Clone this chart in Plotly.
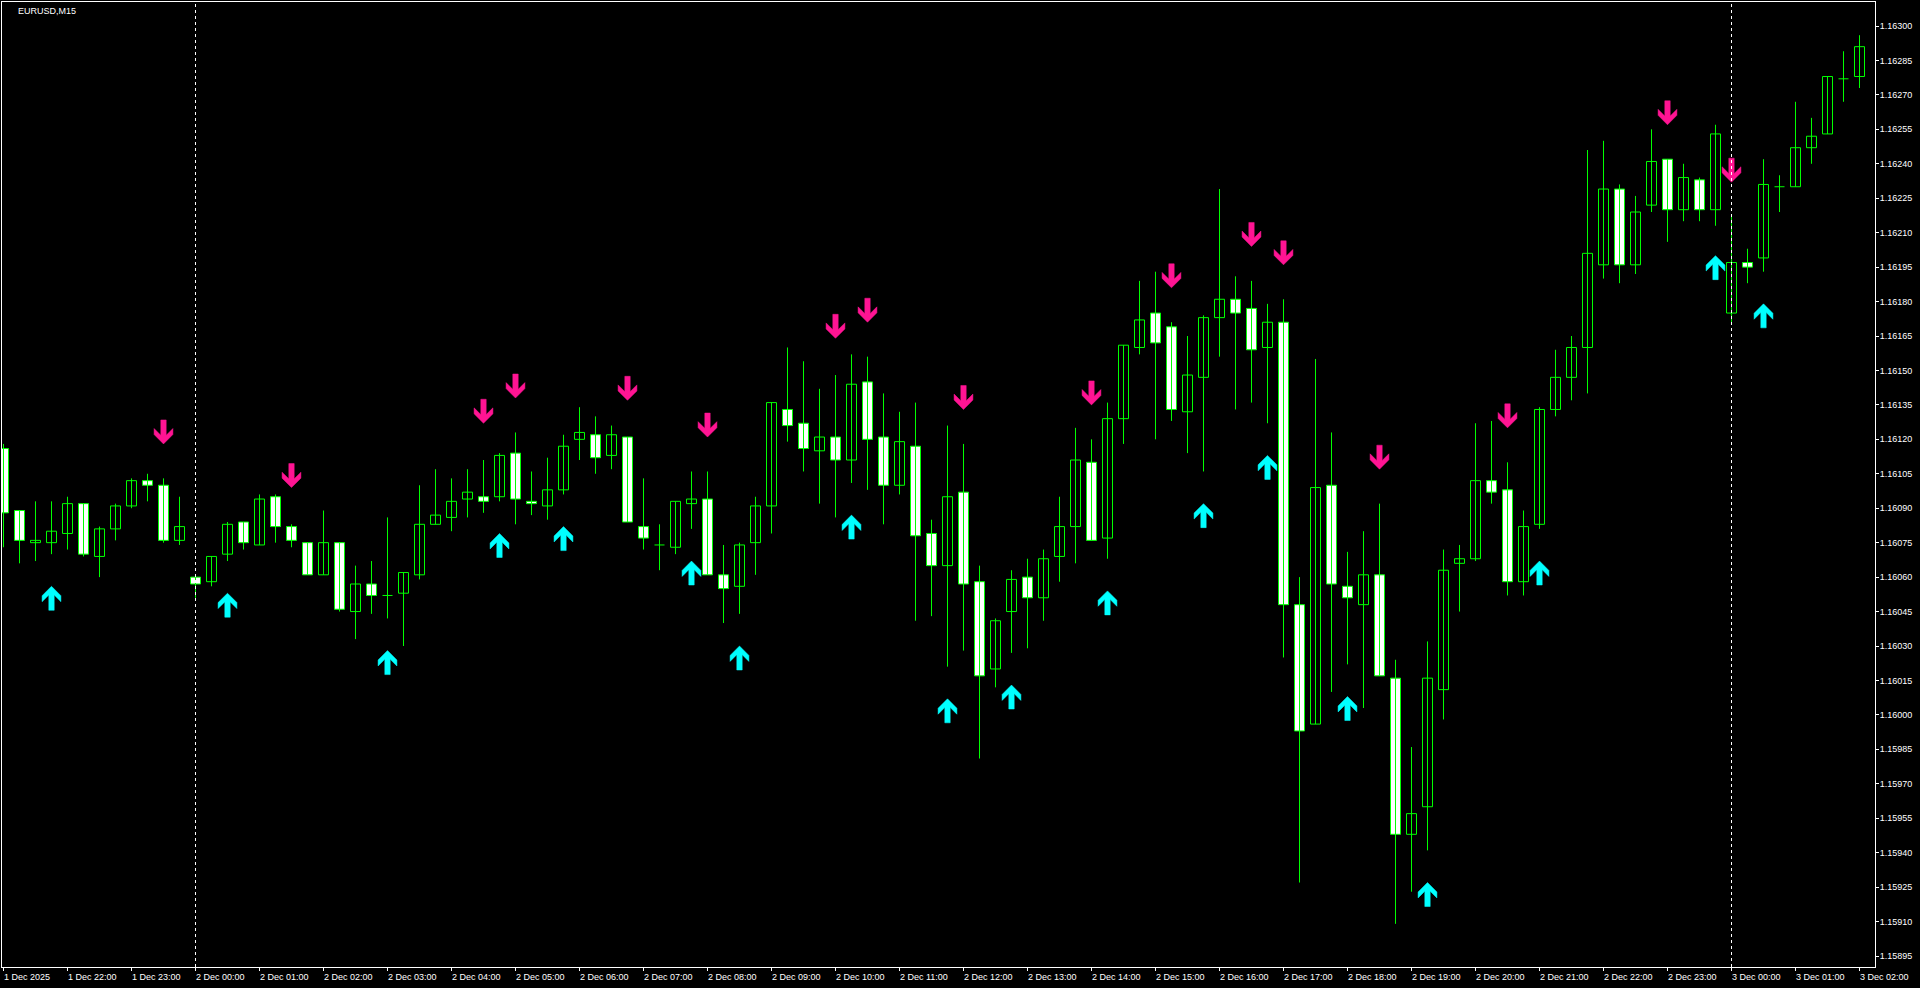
import plotly.graph_objects as go

# ---------------- data ----------------
SYMBOL = "EURUSD,M15"

HOUR_LABELS = [
    "1 Dec 2025", "1 Dec 22:00", "1 Dec 23:00",
    "2 Dec 00:00", "2 Dec 01:00", "2 Dec 02:00", "2 Dec 03:00", "2 Dec 04:00", "2 Dec 05:00",
    "2 Dec 06:00", "2 Dec 07:00", "2 Dec 08:00", "2 Dec 09:00", "2 Dec 10:00", "2 Dec 11:00",
    "2 Dec 12:00", "2 Dec 13:00", "2 Dec 14:00", "2 Dec 15:00", "2 Dec 16:00", "2 Dec 17:00",
    "2 Dec 18:00", "2 Dec 19:00", "2 Dec 20:00", "2 Dec 21:00", "2 Dec 22:00", "2 Dec 23:00",
    "3 Dec 00:00", "3 Dec 01:00", "3 Dec 02:00",
]
DAY_SEPARATORS = ["2 Dec 00:00", "3 Dec 00:00"]
BARS_PER_HOUR = 4

OPEN = [1.16116, 1.16089, 1.16075, 1.16075, 1.16079, 1.16092, 1.16069, 1.16081, 1.16091, 1.16102,
        1.16100, 1.16076, 1.16060, 1.16058, 1.16070, 1.16084, 1.16074, 1.16095, 1.16082, 1.16075,
        1.16061, 1.16075, 1.16045, 1.16057, 1.16052, 1.16053, 1.16061, 1.16083, 1.16086, 1.16094,
        1.16095, 1.16095, 1.16114, 1.16093, 1.16091, 1.16098, 1.16120, 1.16122, 1.16113, 1.16121,
        1.16082, 1.16074, 1.16073, 1.16092, 1.16094, 1.16061, 1.16056, 1.16075, 1.16091, 1.16133,
        1.16127, 1.16115, 1.16121, 1.16111, 1.16145, 1.16121, 1.16100, 1.16117, 1.16079, 1.16065,
        1.16097, 1.16058, 1.16020, 1.16045, 1.16060, 1.16051, 1.16069, 1.16082, 1.16110, 1.16077,
        1.16129, 1.16160, 1.16175, 1.16169, 1.16132, 1.16147, 1.16173, 1.16181, 1.16177, 1.16160,
        1.16171, 1.16048, 1.15996, 1.16100, 1.16056, 1.16048, 1.16061, 1.16016, 1.15948, 1.15960,
        1.16011, 1.16066, 1.16068, 1.16102, 1.16098, 1.16058, 1.16083, 1.16133, 1.16147, 1.16160,
        1.16196, 1.16229, 1.16196, 1.16222, 1.16242, 1.16220, 1.16233, 1.16220, 1.16175, 1.16197,
        1.16199, 1.16230, 1.16230, 1.16247, 1.16253, 1.16277, 1.16278]
HIGH = [1.16118, 1.16089, 1.16093, 1.16093, 1.16095, 1.16092, 1.16082, 1.16092, 1.16103, 1.16105,
        1.16103, 1.16095, 1.16061, 1.16069, 1.16084, 1.16084, 1.16096, 1.16096, 1.16083, 1.16075,
        1.16089, 1.16075, 1.16065, 1.16067, 1.16086, 1.16062, 1.16100, 1.16107, 1.16103, 1.16107,
        1.16111, 1.16114, 1.16123, 1.16106, 1.16112, 1.16122, 1.16134, 1.16130, 1.16126, 1.16121,
        1.16103, 1.16083, 1.16093, 1.16106, 1.16106, 1.16074, 1.16075, 1.16095, 1.16136, 1.16160,
        1.16154, 1.16142, 1.16148, 1.16157, 1.16156, 1.16140, 1.16132, 1.16136, 1.16085, 1.16126,
        1.16118, 1.16065, 1.16042, 1.16063, 1.16068, 1.16072, 1.16095, 1.16125, 1.16120, 1.16136,
        1.16161, 1.16189, 1.16193, 1.16171, 1.16165, 1.16174, 1.16229, 1.16191, 1.16189, 1.16179,
        1.16181, 1.16060, 1.16155, 1.16123, 1.16071, 1.16080, 1.16092, 1.16024, 1.15986, 1.16032,
        1.16072, 1.16074, 1.16127, 1.16128, 1.16110, 1.16089, 1.16134, 1.16159, 1.16165, 1.16246,
        1.16250, 1.16231, 1.16226, 1.16255, 1.16242, 1.16240, 1.16234, 1.16257, 1.16217, 1.16203,
        1.16242, 1.16235, 1.16267, 1.16260, 1.16278, 1.16289, 1.16296]
LOW = [1.16073, 1.16066, 1.16067, 1.16070, 1.16072, 1.16069, 1.16060, 1.16076, 1.16090, 1.16093,
       1.16075, 1.16074, 1.16051, 1.16056, 1.16067, 1.16072, 1.16074, 1.16075, 1.16073, 1.16061,
       1.16061, 1.16045, 1.16033, 1.16044, 1.16042, 1.16030, 1.16059, 1.16083, 1.16080, 1.16086,
       1.16088, 1.16093, 1.16083, 1.16087, 1.16085, 1.16096, 1.16111, 1.16105, 1.16107, 1.16084,
       1.16072, 1.16063, 1.16070, 1.16081, 1.16061, 1.16040, 1.16044, 1.16061, 1.16079, 1.16119,
       1.16106, 1.16092, 1.16086, 1.16101, 1.16098, 1.16083, 1.16096, 1.16041, 1.16043, 1.16021,
       1.16028, 1.15981, 1.16012, 1.16027, 1.16029, 1.16041, 1.16058, 1.16066, 1.16076, 1.16068,
       1.16118, 1.16157, 1.16120, 1.16128, 1.16114, 1.16106, 1.16156, 1.16133, 1.16136, 1.16127,
       1.16025, 1.15927, 1.15996, 1.16010, 1.16022, 1.16003, 1.16017, 1.15909, 1.15923, 1.15941,
       1.15998, 1.16045, 1.16067, 1.16092, 1.16052, 1.16052, 1.16081, 1.16130, 1.16137, 1.16140,
       1.16190, 1.16188, 1.16192, 1.16219, 1.16206, 1.16215, 1.16215, 1.16213, 1.16171, 1.16188,
       1.16193, 1.16219, 1.16230, 1.16240, 1.16253, 1.16267, 1.16273]
CLOSE = [1.16088, 1.16076, 1.16076, 1.16080, 1.16092, 1.16070, 1.16081, 1.16091, 1.16102, 1.16100,
         1.16076, 1.16082, 1.16057, 1.16069, 1.16083, 1.16075, 1.16094, 1.16082, 1.16076, 1.16061,
         1.16075, 1.16046, 1.16057, 1.16052, 1.16052, 1.16062, 1.16083, 1.16087, 1.16093, 1.16097,
         1.16093, 1.16113, 1.16094, 1.16092, 1.16098, 1.16117, 1.16123, 1.16112, 1.16122, 1.16084,
         1.16077, 1.16074, 1.16093, 1.16094, 1.16061, 1.16055, 1.16074, 1.16091, 1.16136, 1.16126,
         1.16116, 1.16121, 1.16111, 1.16144, 1.16120, 1.16100, 1.16119, 1.16078, 1.16065, 1.16095,
         1.16057, 1.16017, 1.16041, 1.16059, 1.16051, 1.16068, 1.16082, 1.16111, 1.16076, 1.16129,
         1.16161, 1.16172, 1.16162, 1.16133, 1.16148, 1.16173, 1.16181, 1.16175, 1.16159, 1.16171,
         1.16048, 1.15993, 1.16099, 1.16057, 1.16051, 1.16061, 1.16017, 1.15948, 1.15957, 1.16016,
         1.16063, 1.16068, 1.16102, 1.16097, 1.16058, 1.16082, 1.16133, 1.16147, 1.16160, 1.16201,
         1.16229, 1.16196, 1.16219, 1.16241, 1.16220, 1.16234, 1.16220, 1.16253, 1.16197, 1.16195,
         1.16231, 1.16230, 1.16247, 1.16252, 1.16278, 1.16277, 1.16291]

# signal arrows: bar index and price of the arrow tip
SELL_BARS = [10, 18, 30, 32, 39, 44, 52, 54, 60, 68, 73, 78, 80, 86, 94, 104, 108]
SELL_PRICE = [1.16118, 1.16099, 1.16127, 1.16138, 1.16137, 1.16121, 1.16164, 1.16171, 1.16133,
              1.16135, 1.16186, 1.16204, 1.16196, 1.16107, 1.16125, 1.16257, 1.16232]
BUY_BARS = [3, 14, 24, 31, 35, 43, 46, 53, 59, 63, 69, 75, 79, 84, 89, 96, 107, 110]
BUY_PRICE = [1.16056, 1.16053, 1.16028, 1.16079, 1.16082, 1.16067, 1.16030, 1.16087, 1.16007,
             1.16013, 1.16054, 1.16092, 1.16113, 1.16008, 1.15927, 1.16067, 1.16200, 1.16179]

PRICE_TICK_FIRST = 1.15895
PRICE_TICK_STEP = 0.00015
PRICE_TICK_COUNT = 28

# ---------------- geometry / style ----------------
W, H = 1920, 988
PLOT_L, PLOT_R, PLOT_T, PLOT_B = 2, 1875, 2, 967
BAR_PX = 16.0          # pixels between bars
FIRST_BAR_PX = 3.5     # x pixel of bar 0
BODY_PX = 10.0         # candle body width in pixels
REF_PRICE, REF_PX = 1.16300, 26.0
PX_PER_PRICE = 229630.0

GREEN = "#00FF00"
BUY_COL = "#00FFFF"
SELL_COL = "#FF1493"
FONT = "Liberation Sans, Arial, sans-serif"

X0 = (PLOT_L - FIRST_BAR_PX) / BAR_PX
X1 = (PLOT_R - FIRST_BAR_PX) / BAR_PX
Y1 = REF_PRICE + (REF_PX - PLOT_T) / PX_PER_PRICE
Y0 = REF_PRICE - (PLOT_B - REF_PX) / PX_PER_PRICE

n = len(OPEN)
idx = list(range(n))
half_body = BODY_PX / BAR_PX / 2

fig = go.Figure()

# wicks
wx, wy = [], []
for i in idx:
    wx += [i, i, None]
    wy += [LOW[i], HIGH[i], None]
fig.add_trace(go.Scatter(x=wx, y=wy, mode="lines", line=dict(color=GREEN, width=1),
                         hoverinfo="skip"))

# bodies
bx, bh, bb, bc = [], [], [], []
dx_, dy_ = [], []
for i in idx:
    o, c = OPEN[i], CLOSE[i]
    if abs(o - c) < 1e-9:
        dx_ += [i - half_body, i + half_body, None]
        dy_ += [o, o, None]
        continue
    bx.append(i)
    bb.append(min(o, c))
    bh.append(abs(c - o))
    bc.append("#000000" if c > o else "#FFFFFF")
fig.add_trace(go.Bar(x=bx, y=bh, base=bb, width=BODY_PX / BAR_PX,
                     marker=dict(color=bc, line=dict(color=GREEN, width=1)),
                     hoverinfo="skip"))
fig.add_trace(go.Scatter(x=dx_, y=dy_, mode="lines", line=dict(color=GREEN, width=1),
                         hoverinfo="skip"))

# arrows (thick MT4-style arrows, shape in pixels relative to the tip)
ARROW = [(0, 0), (9.4, 9.4), (9.4, 15.4), (2.7, 8.7), (2.7, 24), (-2.7, 24),
         (-2.7, 8.7), (-9.4, 15.4), (-9.4, 9.4), (0, 0)]


def arrow_polys(bars, prices, direction):
    xs, ys = [], []
    for b, p in zip(bars, prices):
        for ax, ay in ARROW:
            xs.append(b + ax / BAR_PX)
            ys.append(p - direction * ay / PX_PER_PRICE)
        xs.append(None)
        ys.append(None)
    return xs, ys


ux, uy = arrow_polys(BUY_BARS, BUY_PRICE, 1)
sx, sy = arrow_polys(SELL_BARS, SELL_PRICE, -1)
fig.add_trace(go.Scatter(x=ux, y=uy, mode="lines", fill="toself", fillcolor=BUY_COL,
                         line=dict(color=BUY_COL, width=0.5), hoverinfo="skip"))
fig.add_trace(go.Scatter(x=sx, y=sy, mode="lines", fill="toself", fillcolor=SELL_COL,
                         line=dict(color=SELL_COL, width=0.5), hoverinfo="skip"))

# day separators
for lab in DAY_SEPARATORS:
    xi = HOUR_LABELS.index(lab) * BARS_PER_HOUR
    fig.add_shape(type="line", xref="x", yref="paper", x0=xi, x1=xi, y0=0, y1=1,
                  line=dict(color="white", width=1, dash="3px,3px"), layer="above")

# time labels (left aligned to their tick)
hour_idx = [k * BARS_PER_HOUR for k in range(len(HOUR_LABELS))]
for xi, lab in zip(hour_idx, HOUR_LABELS):
    fig.add_annotation(x=xi, xref="x", y=0, yref="paper", text=lab, showarrow=False,
                       xanchor="left", yanchor="middle", xshift=-2, yshift=-10,
                       font=dict(family=FONT, size=9, color="white"))

fig.add_annotation(x=(18 - PLOT_L) / (PLOT_R - PLOT_L), xref="paper", y=1, yref="paper",
                   text=SYMBOL, showarrow=False, xanchor="left", yanchor="middle",
                   xshift=-2, yshift=-8.5, font=dict(family=FONT, size=9, color="white"))

price_ticks = [round(PRICE_TICK_FIRST + PRICE_TICK_STEP * k, 5) for k in range(PRICE_TICK_COUNT)]

fig.update_layout(
    width=W, height=H, autosize=False,
    paper_bgcolor="black", plot_bgcolor="black",
    margin=dict(l=PLOT_L, r=W - PLOT_R, t=PLOT_T, b=H - PLOT_B, pad=0),
    showlegend=False, barmode="overlay",
    font=dict(family=FONT, size=9, color="white"),
    xaxis=dict(range=[X0, X1], tickvals=hour_idx, ticks="outside", ticklen=3,
               tickcolor="white", tickwidth=1, showticklabels=False, showgrid=False,
               zeroline=False, showline=True, linecolor="white", linewidth=1, mirror=True,
               automargin=False, fixedrange=True),
    yaxis=dict(range=[Y0, Y1], side="right", tickvals=price_ticks,
               ticktext=[f"{v:.5f}" for v in price_ticks], ticks="outside", ticklen=3,
               tickcolor="white", tickwidth=1, showgrid=False, zeroline=False,
               showline=True, linecolor="white", linewidth=1, mirror=True,
               automargin=False, fixedrange=True, ticklabelstandoff=-1,
               tickfont=dict(family=FONT, size=9, color="white")),
)

fig.write_html("out.html", config={"displayModeBar": False},
               post_script="document.body.style.margin='0';document.body.style.background='#000';")
